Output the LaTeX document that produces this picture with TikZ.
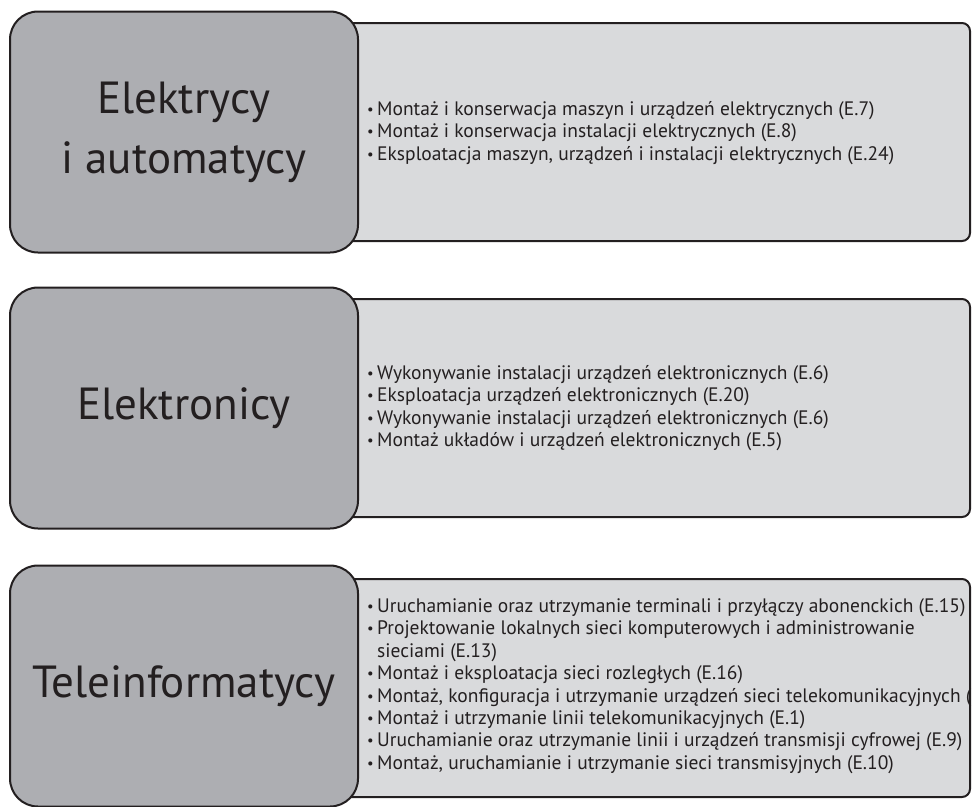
\documentclass[tikz,border=0pt]{standalone}
\usepackage{fontspec}
\setmainfont{PT Sans}
\usetikzlibrary{positioning}

\definecolor{catgray}{HTML}{ADAEB2}
\definecolor{listgray}{HTML}{D9DADC}
\definecolor{inkgray}{HTML}{231F20}

\tikzset{
  catbox/.style={draw=inkgray, line width=2pt, fill=catgray, rounded corners=28pt,
    minimum width=348pt, minimum height=241pt, align=center, text=inkgray,
    font=\fontsize{45}{60}\selectfont},
  listbox/.style={draw=inkgray, line width=2pt, fill=listgray, rounded corners=8pt,
    minimum width=640pt, minimum height=218pt},
  listtext/.style={inner sep=0pt, align=left, text=inkgray,
    font=\fontsize{19.5}{22.4}\selectfont},
}
\newcommand{\itm}{\makebox[10pt][l]{\raisebox{.1ex}{\scalebox{.75}{•}}}}

\begin{document}
\begin{tikzpicture}[x=1pt, y=-1pt]
  \useasboundingbox (0,0) rectangle (972,806);
  % row 1
  \node[listbox] (elBox) at (650,132) {};
  \node[catbox] (el) at (184,132) {Elektrycy\\i automatycy};
  \node[listtext, right=8pt of el.east, yshift=-1pt] (elText) {%
    \itm Montaż i konserwacja maszyn i urządzeń elektrycznych (E.7)\\
    \itm Montaż i konserwacja instalacji elektrycznych (E.8)\\
    \itm Eksploatacja maszyn, urządzeń i instalacji elektrycznych (E.24)};
  % row 2
  \node[listbox] (etBox) at (650,408) {};
  \node[catbox] (et) at (184,408) {Elektronicy};
  \node[listtext, right=8pt of et.east] (etText) {%
    \itm Wykonywanie instalacji urządzeń elektronicznych (E.6)\\
    \itm Eksploatacja urządzeń elektronicznych (E.20)\\
    \itm Wykonywanie instalacji urządzeń elektronicznych (E.6)\\
    \itm Montaż układów i urządzeń elektronicznych (E.5)};
  % row 3
  \node[listbox] (tiBox) at (650,688) {};
  \node[catbox] (ti) at (184,686) {Teleinformatycy};
  \node[listtext, right=8pt of ti.east] (tiText) {%
    \itm Uruchamianie oraz utrzymanie terminali i przyłączy abonenckich (E.15)\\
    \itm Projektowanie lokalnych sieci komputerowych i administrowanie\\
    \hspace*{10pt}sieciami (E.13)\\
    \itm Montaż i eksploatacja sieci rozległych (E.16)\\
    \itm Montaż, konfiguracja i utrzymanie urządzeń sieci telekomunikacyjnych (E.2)\\
    \itm Montaż i utrzymanie linii telekomunikacyjnych (E.1)\\
    \itm Uruchamianie oraz utrzymanie linii i urządzeń transmisji cyfrowej (E.9)\\
    \itm Montaż, uruchamianie i utrzymanie sieci transmisyjnych (E.10)};
\end{tikzpicture}
\end{document}
